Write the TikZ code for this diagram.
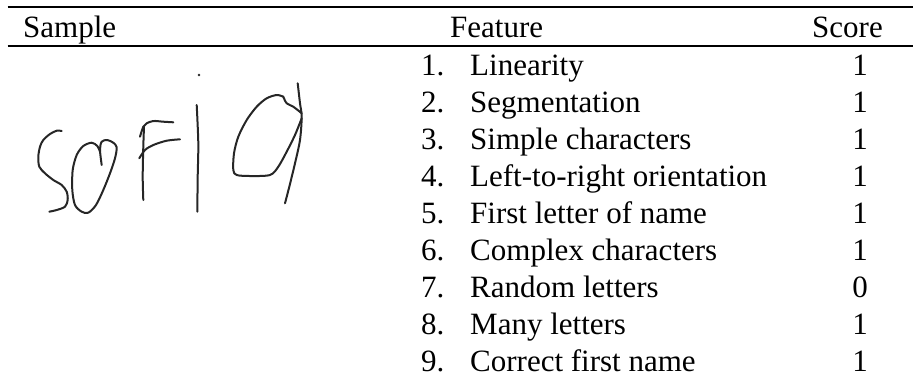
\documentclass[tikz,border=0pt]{standalone}
\usepackage{fontspec}
\setmainfont{Liberation Serif}
\usepackage{tikz}
\usetikzlibrary{positioning}
\tikzset{
	every node/.style={
		font=\fontsize{31}{37}\selectfont,
		inner sep=0pt,
		anchor=base west
	},
	heavyrule/.style={
		line width=2.3pt
	},
	lightrule/.style={
		line width=1.7pt
	},
	scorecell/.style={
		anchor=base
	},
	ink/.style={
		line width=2pt,
		draw=black!85,
		line cap=round,
		line join=round
	}
}

\begin{document}
\begin{tikzpicture}[x=1pt,y=-1pt]
	\useasboundingbox (0,0) rectangle (913,376);

	% rules
	\draw[heavyrule] (7.5,7.3) -- (913,7.3);
	\draw[lightrule] (7.5,46) -- (913,46);

	% header
	\node (hdsample)  at (23,37)  {Sample};
	\node (hdfeature) at (450,37) {Feature};
	\node (hdscore)   at (812,37) {Score};

	% rows
	\foreach \n/\feat/\sc in {1/Linearity/1, 2/Segmentation/1, 3/Simple characters/1,
		4/Left-to-right orientation/1, 5/First letter of name/1, 6/Complex characters/1,
		7/Random letters/0, 8/Many letters/1, 9/Correct first name/1}
	{
		\node (num\n)   at (421,{75+37.1*(\n-1)}) {\n.};
		\node (feat\n)  at (470,{75+37.1*(\n-1)}) {\feat};
		\node[scorecell] (score\n) at (860,{75+37.1*(\n-1)}) {\sc};
	}

	% handwritten sample
	\draw[ink] plot[smooth] coordinates {(61.7,131) (56.7,130.7) (50,134) (43.3,140) (40,146.7)
		(38.3,156.7) (39.3,166.7) (45,173.3) (53.3,180) (61.7,185) (66.7,191.7) (67.7,200)
		(65,206.7) (56.7,210) (49.3,211.7)};
	\draw[ink] plot[smooth] coordinates {(101.7,165) (100,150) (101.7,141.7) (107.3,140)
		(113.3,142.7) (116.7,147.3) (115,158.3) (110,173.3) (103.3,190) (96,205) (88.3,212.7)
		(81.7,211.7) (75,205) (72.3,190) (72.7,170) (76.7,155) (83.3,146) (91.7,142.7)
		(97.3,146) (100,151.7)};
	\draw[ink] plot[smooth] coordinates {(143.3,200) (142.7,176.7) (143.3,146.7) (144,126.7)};
	\draw[ink] plot[smooth] coordinates {(140,136.7) (143.3,126.7) (146.7,123.3) (153.3,121)
		(163.3,121.7) (173.3,122.3)};
	\draw[ink] plot[smooth] coordinates {(139.3,158.3) (145,150) (153.3,145) (166.7,140.7) (180,139.3)};
	\draw[ink] plot[smooth] coordinates {(196.7,105) (198.3,143.3) (197.7,176.7) (197.3,211.7)};
	\fill[black!85] (199,75) circle (1.3);
	\draw[ink] plot[smooth] coordinates {(283.3,96.7) (276.7,95) (266.7,98.3) (256.7,106.7)
		(246.7,120) (238.3,136.7) (234,153.3) (233.3,170) (236.7,175) (250,176) (270,175)
		(278.3,166.7) (286.7,151.7) (295,135) (301.7,118.3)};
	\draw[ink] plot[smooth] coordinates {(283.3,96.7) (286.7,103.3) (293.3,106.7) (301.7,113.3)};
	\draw[ink] plot[smooth] coordinates {(297.7,83.3) (300,103.3) (301.7,116.7) (300,140)
		(295,163.3) (289.3,186.7) (285,203.3)};
\end{tikzpicture}
\end{document}
